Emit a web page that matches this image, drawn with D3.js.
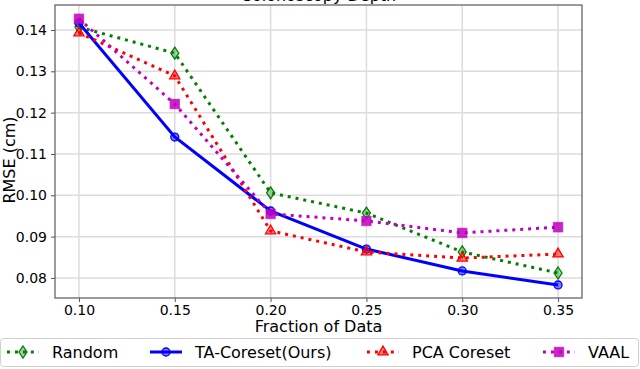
<!DOCTYPE html>
<html>
<head>
<meta charset="utf-8">
<script src="https://cdn.jsdelivr.net/npm/d3@7"></script>
<style>
  body { margin: 0; background: #fff; }
  text { font-family: "DejaVu Sans", sans-serif; fill: #000; }
</style>
</head>
<body>
<script>
// data
var fractions = [0.10, 0.15, 0.20, 0.25, 0.30, 0.35];
var randomRmse = [0.1407, 0.1344, 0.1006, 0.0957, 0.0863, 0.0812];
var taCoresetRmse = [0.1417, 0.1141, 0.0962, 0.0870, 0.0817, 0.0783];
var pcaCoresetRmse = [0.1393, 0.1289, 0.0914, 0.0863, 0.0848, 0.0858];
var vaalRmse = [0.1427, 0.1221, 0.0955, 0.0938, 0.0909, 0.0923];
var xTicks = [0.10, 0.15, 0.20, 0.25, 0.30, 0.35];
var yTicks = [0.08, 0.09, 0.10, 0.11, 0.12, 0.13, 0.14];

var series = [
  {name: "Random", values: randomRmse, color: "green", dash: "3,4.95", marker: "diamond"},
  {name: "TA-Coreset(Ours)", values: taCoresetRmse, color: "blue", dash: null, marker: "circle"},
  {name: "PCA Coreset", values: pcaCoresetRmse, color: "red", dash: "3,4.95", marker: "triangle"},
  {name: "VAAL", values: vaalRmse, color: "#c000c0", dash: "3,4.95", marker: "square"}
];

var svgWidth = 640;
var svgHeight = 369;
var margin = {top: 5, right: 58, bottom: 71, left: 55};
var chartWidth = svgWidth - margin.left - margin.right;
var chartHeight = svgHeight - margin.top - margin.bottom;

var svg = d3.select("body").append("svg")
  .attr("width", svgWidth)
  .attr("height", svgHeight);

var chartGroup = svg.append("g")
  .attr("transform", `translate(${margin.left}, ${margin.top})`);

var xScale = d3.scaleLinear().domain([0.0875, 0.3625]).range([0, chartWidth]);
var yScale = d3.scaleLinear().domain([0.07515, 0.14605]).range([chartHeight, 0]);

// grid
chartGroup.append("g").selectAll("line.gx").data(xTicks).join("line")
  .attr("x1", d => xScale(d)).attr("x2", d => xScale(d))
  .attr("y1", 0).attr("y2", chartHeight)
  .attr("stroke", "#dcdcdc").attr("stroke-width", 1.5);
chartGroup.append("g").selectAll("line.gy").data(yTicks).join("line")
  .attr("x1", 0).attr("x2", chartWidth)
  .attr("y1", d => yScale(d)).attr("y2", d => yScale(d))
  .attr("stroke", "#dcdcdc").attr("stroke-width", 1.5);

// axes
var bottomAxis = d3.axisBottom(xScale).tickValues(xTicks).tickFormat(d3.format(".2f")).tickSize(4).tickPadding(3);
var leftAxis = d3.axisLeft(yScale).tickValues(yTicks).tickFormat(d3.format(".2f")).tickSize(4).tickPadding(4);

var gx = chartGroup.append("g")
  .attr("transform", `translate(0, ${chartHeight})`)
  .call(bottomAxis);
var gy = chartGroup.append("g").call(leftAxis);
[gx, gy].forEach(function(g) {
  g.select(".domain").remove();
  g.selectAll(".tick line").attr("stroke", "#555");
  g.selectAll(".tick text").style("font-family", "DejaVu Sans").style("font-size", "14px").attr("fill", "#000");
});

// frame
chartGroup.append("rect")
  .attr("width", chartWidth).attr("height", chartHeight)
  .attr("fill", "none").attr("stroke", "#666").attr("stroke-width", 1.3);

function drawMarker(g, type, color) {
  var sym;
  if (type === "diamond") {
    g.append("path").attr("d", "M0,-6L4,0L0,6L-4,0Z")
      .attr("fill", color).attr("fill-opacity", 0.35).attr("stroke", color).attr("stroke-width", 1.3);
    return;
  }
  if (type === "circle") sym = d3.symbol(d3.symbolCircle, 50);
  if (type === "triangle") sym = d3.symbol(d3.symbolTriangle, 45);
  if (type === "square") sym = d3.symbol(d3.symbolSquare, 85);
  g.append("path").attr("d", sym())
    .attr("fill", color).attr("fill-opacity", type === "square" ? 0.85 : 0.5)
    .attr("stroke", color).attr("stroke-opacity", type === "square" ? 0.6 : 1).attr("stroke-width", 1.3);
}

var line = d3.line()
  .x((d, i) => xScale(fractions[i]))
  .y(d => yScale(d));

series.forEach(function(s) {
  var g = chartGroup.append("g");
  g.append("path")
    .attr("d", line(s.values))
    .attr("fill", "none")
    .attr("stroke", s.color)
    .attr("stroke-width", 3)
    .attr("stroke-dasharray", s.dash);
  s.values.forEach(function(v, i) {
    var mg = g.append("g").attr("transform", `translate(${xScale(fractions[i])}, ${yScale(v)})`);
    drawMarker(mg, s.marker, s.color);
  });
});

// title (clipped at top, as in the reference)
svg.append("text")
  .attr("x", margin.left + chartWidth / 2)
  .attr("y", 1)
  .attr("text-anchor", "middle")
  .style("font-size", "16px")
  .text("Colonoscopy Depth");

// axis labels
svg.append("text")
  .attr("x", margin.left + chartWidth / 2)
  .attr("y", 332)
  .attr("text-anchor", "middle")
  .style("font-size", "16px")
  .text("Fraction of Data");

svg.append("text")
  .attr("transform", "rotate(-90)")
  .attr("x", -160)
  .attr("y", 15)
  .attr("text-anchor", "middle")
  .style("font-size", "16px")
  .text("RMSE (cm)");

// legend
var legend = svg.append("g");
legend.append("rect")
  .attr("x", 0.5).attr("y", 338.5)
  .attr("width", 638).attr("height", 28)
  .attr("rx", 3)
  .attr("fill", "#fff").attr("stroke", "#d0d0d0");

var legendX = [7, 150, 367, 543];
series.forEach(function(s, i) {
  var lg = legend.append("g").attr("transform", `translate(${legendX[i]}, 352)`);
  lg.append("line")
    .attr("x1", 0).attr("x2", 32)
    .attr("stroke", s.color).attr("stroke-width", 3)
    .attr("stroke-dasharray", s.dash);
  var mg = lg.append("g").attr("transform", "translate(16,0)");
  drawMarker(mg, s.marker, s.color);
  lg.append("text")
    .attr("x", 45).attr("y", 6)
    .style("font-size", "16px")
    .text(s.name);
});
</script>
</body>
</html>
